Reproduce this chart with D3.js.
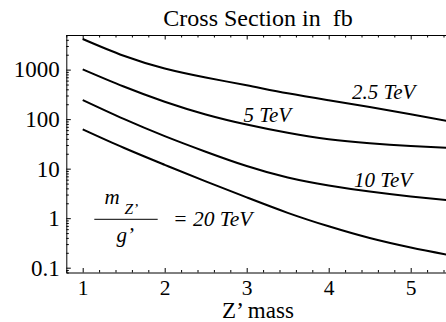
<!DOCTYPE html>
<html><head><meta charset="utf-8">
<script src="https://cdn.jsdelivr.net/npm/d3@7"></script>
<style>
body{margin:0;background:#fff}
</style>
</head><body>
<svg id="c" width="446" height="322"></svg>
<script>
// ---- data ----
const massX   = [1, 1.5, 2, 2.5, 3, 3.5, 4, 4.5, 5, 5.5];
const sigma25 = [4150, 1900, 1052, 693, 482, 332, 240, 175, 125, 88.7];
const sigma5  = [1014, 456, 225, 124.5, 77.8, 52.9, 39.1, 32.5, 28.7, 26.1];
const sigma10 = [243, 101, 45.4, 22.0, 11.3, 6.62, 4.57, 3.44, 2.74, 2.26];
const sigma20 = [62.3, 26.4, 11.95, 5.52, 2.63, 1.283, 0.685, 0.397, 0.2556, 0.176];
const seriesNames = ["2.5 TeV", "5 TeV", "10 TeV", "20 TeV"];
const xTicks = [1, 2, 3, 4, 5];
const yTicks = [0.1, 1, 10, 100, 1000];
const yTickLabels = ["0.1", "1", "10", "100", "1000"];
const titleText = "Cross Section in  fb";
const xLabel = "Z\u2019 mass";

// ---- layout ----
const FONT = "'Liberation Serif', 'Times New Roman', Times, serif";
const svg = d3.select("#c");
const pL = 66.3, pT = 35, pB = 272.5, pR = 446;
const x = d3.scaleLinear().domain([0.8, 5.5]).range([pL, pL + 4.7 * 82]);
const y = d3.scaleLog().domain([0.08, 5000]).range([pB, pT]);

const g = svg.append("g");

// minor ticks
const xMinor = d3.range(0.8, 5.51, 0.2).filter(v => Math.abs(v - Math.round(v)) > 1e-6);
const yMinor = [];
[0.01, 0.1, 1, 10, 100, 1000].forEach(p => { for (let k = 2; k <= 9; k++) { const v = p * k; if (v >= 0.08 && v <= 5000) yMinor.push(v); } });

function styleAxis(sel) {
  sel.attr("font-family", null);
  sel.selectAll("path.domain").attr("stroke", "#000").attr("stroke-width", 1);
  sel.selectAll(".tick line").attr("stroke", "#000").attr("stroke-width", 1);
  sel.selectAll("text").style("font-family", FONT).attr("fill", "#000");
}

// bottom axis
const gb = g.append("g").attr("transform", `translate(0,${pB})`)
  .call(d3.axisBottom(x).tickValues(xTicks).tickFormat(d3.format("d"))
    .tickSizeInner(-4.5).tickSizeOuter(0).tickPadding(7));
styleAxis(gb);
gb.selectAll("text").style("font-size", "21.5px");
g.append("g").attr("transform", `translate(0,${pB})`)
  .call(d3.axisBottom(x).tickValues(xMinor).tickFormat("").tickSizeInner(-2.5).tickSizeOuter(0))
  .call(s => { s.select("path.domain").remove(); styleAxis(s); });

// top axis
const gt = g.append("g").attr("transform", `translate(0,${pT})`)
  .call(d3.axisTop(x).tickValues(xTicks).tickFormat("").tickSizeInner(-4.5).tickSizeOuter(0));
styleAxis(gt);
g.append("g").attr("transform", `translate(0,${pT})`)
  .call(d3.axisTop(x).tickValues(xMinor).tickFormat("").tickSizeInner(-2.5).tickSizeOuter(0))
  .call(s => { s.select("path.domain").remove(); styleAxis(s); });

// left axis
const gl = g.append("g").attr("transform", `translate(${pL},0)`)
  .call(d3.axisLeft(y).tickValues(yTicks).tickFormat((d, i) => yTickLabels[i])
    .tickSizeInner(-4.5).tickSizeOuter(0).tickPadding(6.5));
styleAxis(gl);
gl.selectAll("text").style("font-size", "23px");
g.append("g").attr("transform", `translate(${pL},0)`)
  .call(d3.axisLeft(y).tickValues(yMinor).tickFormat("").tickSizeInner(-2.5).tickSizeOuter(0))
  .call(s => { s.select("path.domain").remove(); styleAxis(s); });

// curves
const series = [sigma25, sigma5, sigma10, sigma20];
const line = d3.line().x((d, i) => x(massX[i])).y(d => y(d)).curve(d3.curveNatural);
svg.append("clipPath").attr("id", "clip").append("rect")
  .attr("x", pL).attr("y", pT).attr("width", pR - pL).attr("height", pB - pT);
g.append("g").attr("clip-path", "url(#clip)").selectAll("path.curve").data(series).join("path")
  .attr("class", "curve").attr("d", line)
  .attr("fill", "none").attr("stroke", "#000").attr("stroke-width", 2);

function txt(parent, xx, yy, s, size, italic, anchor) {
  return parent.append("text").attr("x", xx).attr("y", yy).text(s)
    .style("font-family", FONT).style("font-size", size + "px")
    .style("font-style", italic ? "italic" : "normal")
    .style("white-space", "pre")
    .attr("text-anchor", anchor || "start").attr("fill", "#000");
}

// title & x label
txt(svg, 258, 25.5, titleText, 24, false, "middle");
txt(svg, 258, 317.5, xLabel, 23, false, "middle");

// curve labels
txt(svg, 352, 98.5, seriesNames[0], 21, true);
txt(svg, 243.5, 122, seriesNames[1], 21, true);
txt(svg, 354, 187, seriesNames[2], 21, true);
txt(svg, 173, 225.5, "= " + seriesNames[3], 21.5, true);

// fraction m_Z' / g'
txt(svg, 104.5, 203.5, "m", 21, true);
txt(svg, 124.5, 214, "Z\u2019", 15.5, true);
svg.append("line").attr("x1", 94.3).attr("x2", 157.7).attr("y1", 219.3).attr("y2", 219.3)
  .attr("stroke", "#000").attr("stroke-width", 1);
txt(svg, 116.5, 241.5, "g\u2019", 21, true);
</script>
</body></html>
